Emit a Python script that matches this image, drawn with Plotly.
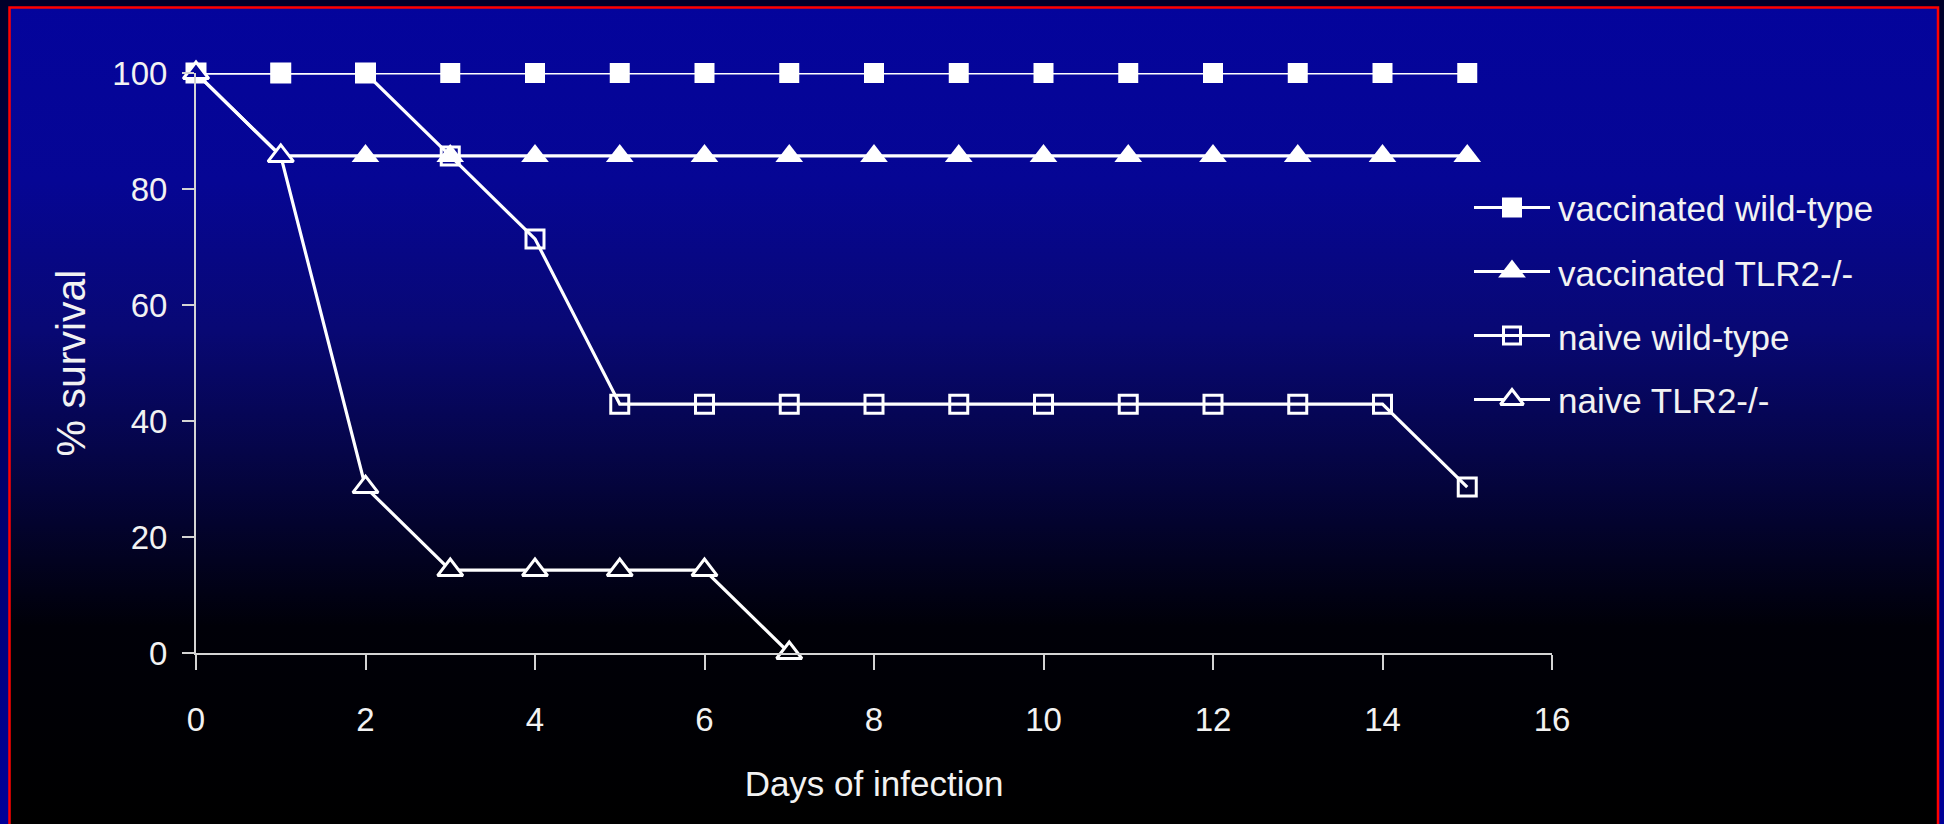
import base64
import plotly.graph_objects as go

# ---- data -------------------------------------------------------------
days = [0, 1, 2, 3, 4, 5, 6, 7, 8, 9, 10, 11, 12, 13, 14, 15]
days_naive_tlr2 = [0, 1, 2, 3, 4, 5, 6, 7]

vaccinated_wt = [100, 100, 100, 100, 100, 100, 100, 100,
                 100, 100, 100, 100, 100, 100, 100, 100]
vaccinated_tlr2 = [100, 85.7, 85.7, 85.7, 85.7, 85.7, 85.7, 85.7,
                   85.7, 85.7, 85.7, 85.7, 85.7, 85.7, 85.7, 85.7]
naive_wt = [100, 100, 100, 85.7, 71.4, 42.9, 42.9, 42.9,
            42.9, 42.9, 42.9, 42.9, 42.9, 42.9, 42.9, 28.6]
naive_tlr2 = [100, 85.7, 28.6, 14.3, 14.3, 14.3, 14.3, 0]

series_names = ["vaccinated wild-type", "vaccinated TLR2-/-",
                "naive wild-type", "naive TLR2-/-"]

x_ticks = [0, 2, 4, 6, 8, 10, 12, 14, 16]
y_ticks = [0, 20, 40, 60, 80, 100]

# ---- geometry / style --------------------------------------------------
W, H = 1944, 824
PLOT_L, PLOT_R, PLOT_T, PLOT_B = 196, 1552, 73, 653
FONT = "Liberation Sans, Arial, sans-serif"
TXT = "#f2f2f2"
AXC = "#d4d4d4"
LINE_W = 3.2

# vertical background gradient (fraction of height, rgb)
grad_stops = [
    (0.00, (4, 4, 156)),
    (0.22, (6, 6, 148)),
    (0.40, (8, 8, 116)),
    (0.55, (5, 5, 72)),
    (0.68, (2, 2, 32)),
    (0.76, (0, 0, 8)),
    (1.00, (0, 0, 0)),
]


def bg_rgb(py):
    f = min(max(py / H, 0.0), 1.0)
    for (f0, c0), (f1, c1) in zip(grad_stops[:-1], grad_stops[1:]):
        if f0 <= f <= f1:
            t = (f - f0) / (f1 - f0) if f1 > f0 else 0
            c = [round(a + (b - a) * t) for a, b in zip(c0, c1)]
            return "rgb({},{},{})".format(*c)
    return "rgb(0,0,0)"


def value_to_py(v):
    return PLOT_B - v / 100.0 * (PLOT_B - PLOT_T)


stops_svg = "".join(
    '<stop offset="{:.3f}" stop-color="rgb({},{},{})"/>'.format(f, *c)
    for f, c in grad_stops
)
svg = (
    f'<svg xmlns="http://www.w3.org/2000/svg" width="{W}" height="{H}" '
    f'viewBox="0 0 {W} {H}" preserveAspectRatio="none">'
    '<defs>'
    f'<linearGradient id="o" gradientUnits="userSpaceOnUse" x1="0" y1="0" x2="0" y2="{H}">'
    '<stop offset="0" stop-color="#00002a"/><stop offset="1" stop-color="#000099"/>'
    '</linearGradient>'
    f'<linearGradient id="i" gradientUnits="userSpaceOnUse" x1="0" y1="0" x2="0" y2="{H}">'
    f'{stops_svg}</linearGradient>'
    '</defs>'
    f'<rect x="0" y="0" width="{W}" height="{H}" fill="url(#o)"/>'
    f'<rect x="9.5" y="7.5" width="{W - 15.5}" height="{H + 10}" fill="url(#i)" '
    'stroke="#ff0000" stroke-width="2.5"/>'
    '</svg>'
)
bg_uri = "data:image/svg+xml;base64," + base64.b64encode(svg.encode()).decode()

fig = go.Figure()

# ---- survival curves ----------------------------------------------------
fig.add_trace(go.Scatter(
    x=days, y=vaccinated_wt, name=series_names[0], mode="lines+markers",
    line=dict(color="white", width=LINE_W),
    marker=dict(symbol="square", size=20, color="white"),
    cliponaxis=False, showlegend=False))
fig.add_trace(go.Scatter(
    x=days, y=vaccinated_tlr2, name=series_names[1], mode="lines+markers",
    line=dict(color="white", width=LINE_W),
    marker=dict(symbol="triangle-up", size=24, color="white"),
    cliponaxis=False, showlegend=False))
fig.add_trace(go.Scatter(
    x=days, y=naive_wt, name=series_names[2], mode="lines+markers",
    line=dict(color="white", width=LINE_W),
    marker=dict(symbol="square-open", size=18, color="white",
                line=dict(width=3, color="white")),
    cliponaxis=False, showlegend=False))
fig.add_trace(go.Scatter(
    x=days_naive_tlr2, y=naive_tlr2, name=series_names[3], mode="lines+markers",
    line=dict(color="white", width=LINE_W),
    marker=dict(symbol="triangle-up", size=22,
                color=[bg_rgb(value_to_py(v)) for v in naive_tlr2],
                line=dict(width=3, color="white")),
    cliponaxis=False, showlegend=False))

# ---- legend keys (long line + centred marker) ---------------------------
LEG_X0, LEG_X1, LEG_TEXT_X = 1474, 1550, 1556
LEG_ROWS = [208, 273, 337, 400]
legend_markers = [
    dict(symbol="square", size=20, color="white"),
    dict(symbol="triangle-up", size=24, color="white"),
    dict(symbol="square-open", size=17, color="white", line=dict(width=3, color="white")),
    dict(symbol="triangle-up", size=20, color=bg_rgb(LEG_ROWS[3]),
         line=dict(width=3, color="white")),
]
for i, name in enumerate(series_names):
    fig.add_trace(go.Scatter(
        x=[0, 1], y=[i, i], mode="lines", xaxis="x2", yaxis="y2",
        line=dict(color="white", width=LINE_W), showlegend=False, hoverinfo="skip"))
    fig.add_trace(go.Scatter(
        x=[0.5], y=[i], mode="markers", xaxis="x2", yaxis="y2",
        marker=legend_markers[i], showlegend=False, cliponaxis=False, hovertext=name))
    fig.add_annotation(
        x=LEG_TEXT_X / W, y=1 - LEG_ROWS[i] / H, xref="paper", yref="paper",
        text=name, showarrow=False, xanchor="left", yanchor="middle",
        font=dict(family=FONT, size=35, color=TXT))

fig.update_layout(
    width=W, height=H, autosize=False,
    margin=dict(l=0, r=0, t=0, b=0),
    paper_bgcolor="black", plot_bgcolor="rgba(0,0,0,0)",
    font=dict(family=FONT, color=TXT),
    images=[dict(source=bg_uri, xref="paper", yref="paper", x=0, y=1,
                 sizex=1, sizey=1, xanchor="left", yanchor="top",
                 sizing="stretch", layer="below")],
    xaxis=dict(
        domain=[PLOT_L / W, PLOT_R / W], range=[0, 16],
        tickvals=x_ticks, ticktext=[str(t) for t in x_ticks],
        showline=True, linecolor=AXC, linewidth=2,
        ticks="outside", ticklen=15, tickwidth=2, tickcolor=AXC,
        ticklabelstandoff=21,
        showgrid=False, zeroline=False, automargin=False,
        tickfont=dict(size=33, color=TXT, family=FONT),
        title=dict(text="Days of infection", standoff=35,
                   font=dict(size=35, color=TXT, family=FONT)),
    ),
    yaxis=dict(
        domain=[1 - PLOT_B / H, 1 - PLOT_T / H], range=[0, 100],
        tickvals=y_ticks, ticktext=[str(t) for t in y_ticks],
        showline=True, linecolor=AXC, linewidth=2,
        ticks="outside", ticklen=12, tickwidth=2, tickcolor=AXC,
        ticklabelstandoff=8,
        showgrid=False, zeroline=False, automargin=False,
        tickfont=dict(size=33, color=TXT, family=FONT),
        title=dict(text="% survival", standoff=14,
                   font=dict(size=41, color=TXT, family=FONT)),
    ),
    xaxis2=dict(domain=[LEG_X0 / W, LEG_X1 / W], range=[0, 1], visible=False,
                anchor="y2", fixedrange=True),
    yaxis2=dict(domain=[1 - (LEG_ROWS[3] + 0.5 * (LEG_ROWS[3] - LEG_ROWS[2])) / H,
                        1 - (LEG_ROWS[0] - 0.5 * (LEG_ROWS[1] - LEG_ROWS[0])) / H],
                range=[3.5, -0.5], visible=False, anchor="x2", fixedrange=True),
    showlegend=False,
)

fig.write_html("out.html")
